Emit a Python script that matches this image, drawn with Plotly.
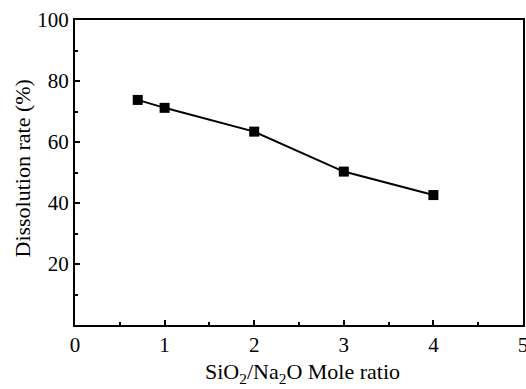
import plotly.graph_objects as go

ratio = [0.7, 1, 2, 3, 4]
dissolution = [73.8, 71.2, 63.4, 50.3, 42.6]
x_ticks = [0, 1, 2, 3, 4, 5]
y_ticks = [20, 40, 60, 80, 100]
x_title = "SiO<sub>2</sub>/Na<sub>2</sub>O Mole ratio"
y_title = "Dissolution rate (%)"

font_family = "Liberation Serif, Times New Roman, serif"

fig = go.Figure()
fig.add_trace(go.Scatter(
    x=ratio, y=dissolution, mode="lines+markers",
    line=dict(color="black", width=2),
    marker=dict(symbol="square", size=10, color="black"),
    showlegend=False,
))

axis_common = dict(
    showgrid=False, zeroline=False, showline=True, linecolor="black", linewidth=2,
    mirror=True, ticks="inside", ticklen=5, tickwidth=1.5, tickcolor="black",
    tickfont=dict(family=font_family, size=21, color="black"),
    automargin=False, ticklabeloverflow="allow",
)

fig.update_xaxes(
    range=[0, 5], tickvals=x_ticks, ticktext=[str(v) for v in x_ticks],
    minor=dict(ticks="inside", ticklen=3, tickwidth=1.5, dtick=0.5, tickcolor="black"),
    **axis_common,
)
fig.update_yaxes(
    range=[0, 100], tickvals=y_ticks, ticktext=[str(v) for v in y_ticks],
    minor=dict(ticks="inside", ticklen=3, tickwidth=1.5, dtick=10, tickcolor="black"),
    **axis_common,
)

fig.add_annotation(
    text=x_title, xref="paper", yref="paper", x=0.5, y=0,
    xanchor="center", yanchor="middle", xshift=3, yshift=-48, showarrow=False,
    font=dict(family=font_family, size=22, color="black"),
)
fig.add_annotation(
    text=y_title, xref="paper", yref="paper", x=0, y=0.5, textangle=-90,
    xanchor="center", yanchor="middle", xshift=-53, yshift=4, showarrow=False,
    font=dict(family=font_family, size=22, color="black"),
)

fig.update_layout(
    width=526, height=389,
    margin=dict(l=75, r=3, t=20, b=64),
    plot_bgcolor="white", paper_bgcolor="white",
)

fig.write_html("out.html", config={"displayModeBar": False},
               post_script="document.body.style.margin='0';document.body.style.overflow='hidden';")
